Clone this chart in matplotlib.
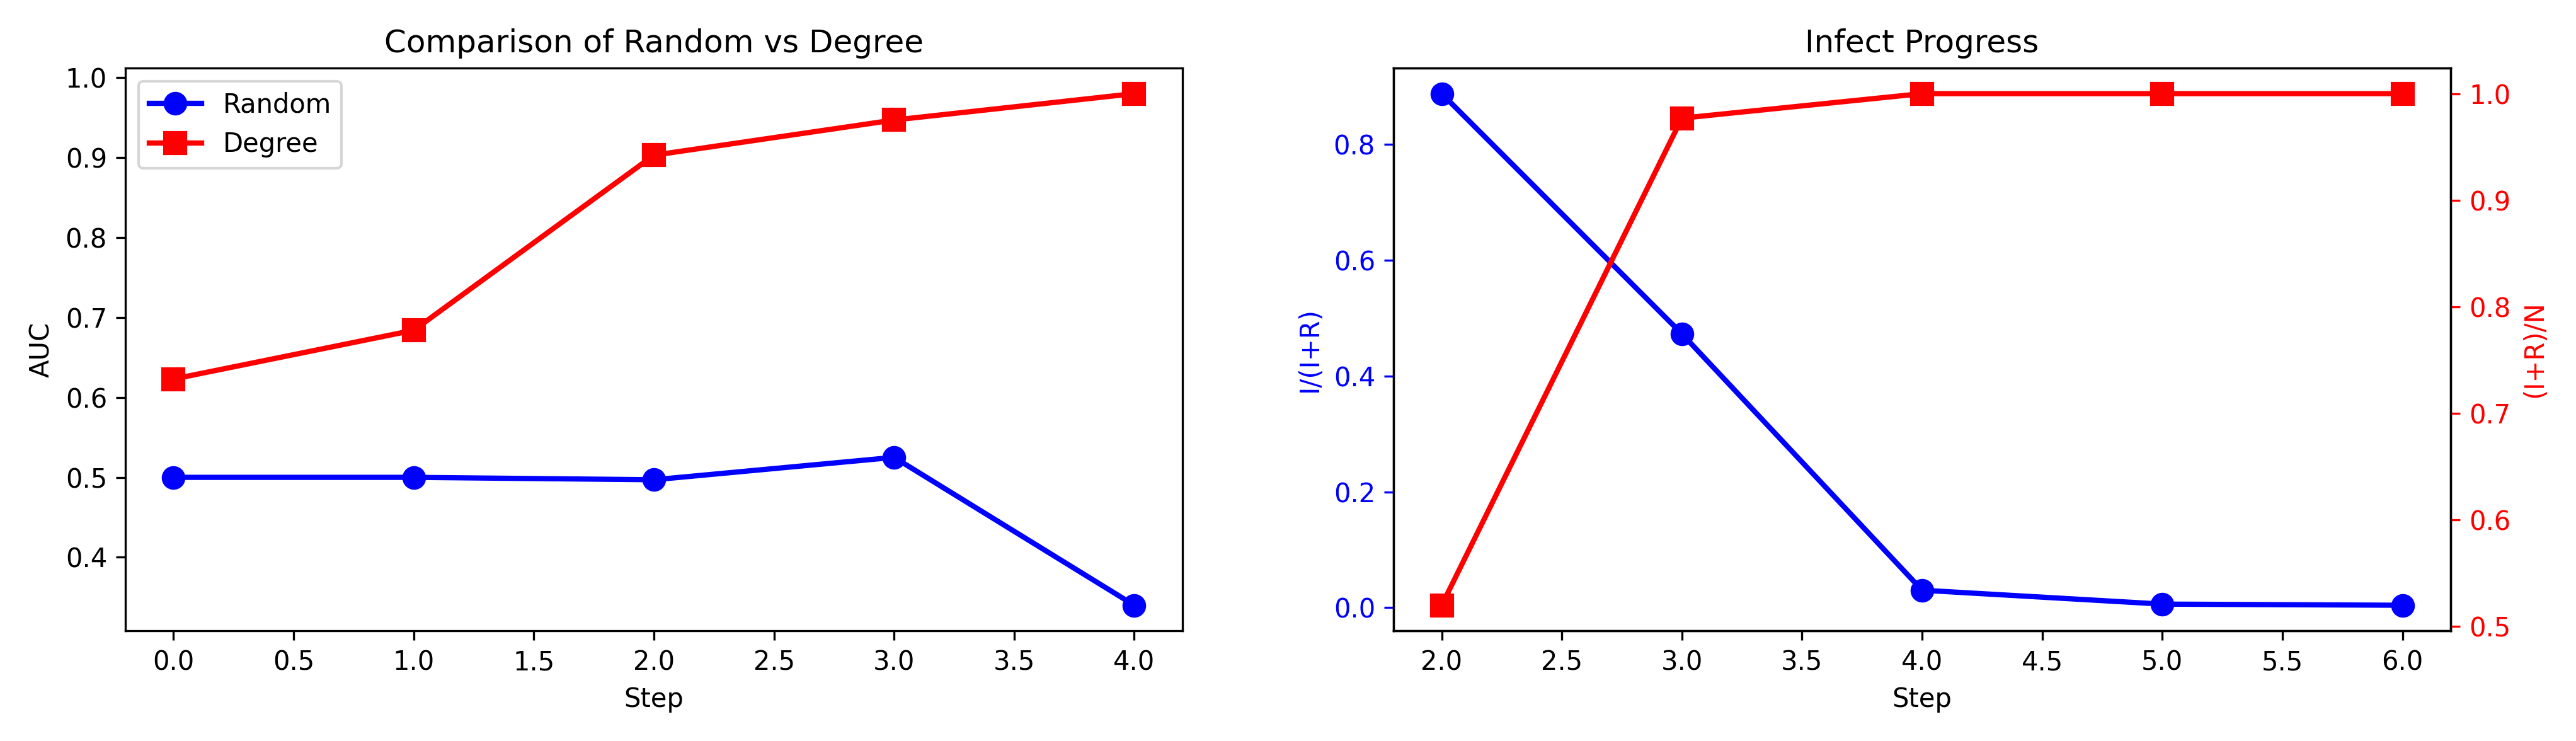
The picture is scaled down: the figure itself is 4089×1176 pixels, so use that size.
import numpy as np
from matplotlib import pyplot as plt

steps_auc = [0, 1, 2, 3, 4]
auc_random = [0.500, 0.500, 0.497, 0.525, 0.340]
auc_degree = [0.623, 0.684, 0.903, 0.947, 0.980]

steps_inf = [2, 3, 4, 5, 6]
i_ratio = [0.888, 0.473, 0.030, 0.006, 0.004]
ir_ratio = [0.520, 0.977, 1.000, 1.000, 1.000]

fig, (ax1, ax2) = plt.subplots(1, 2, figsize=(13.63, 3.92), dpi=300)

ax1.plot(steps_auc, auc_random, "b-o", lw=2, ms=8, label="Random")
ax1.plot(steps_auc, auc_degree, "r-s", lw=2, ms=8, label="Degree")
ax1.set_title("Comparison of Random vs Degree")
ax1.set_xlabel("Step")
ax1.set_ylabel("AUC")
ax1.legend(loc="upper left")

ax2.plot(steps_inf, i_ratio, "b-o", lw=2, ms=8)
ax2.set_ylabel("I/(I+R)", color="b")
ax2.tick_params(axis="y", colors="b")
ax2.set_xlabel("Step")
ax2.set_title("Infect Progress")
ax3 = ax2.twinx()
ax3.plot(steps_inf, ir_ratio, "r-s", lw=2, ms=8)
ax3.set_ylabel("(I+R)/N", color="r")
ax3.tick_params(axis="y", colors="r")

fig.tight_layout()
fig.subplots_adjust(wspace=0.2)
plt.savefig("out.png")
